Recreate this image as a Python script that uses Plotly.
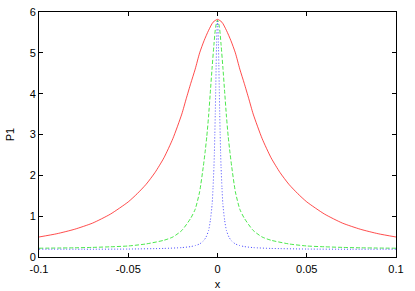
import plotly.graph_objects as go

# Values (curves are symmetric about x = 0)
red_x = [0.0, 0.0025, 0.005, 0.0075, 0.01, 0.0125, 0.015, 0.0175, 0.02, 0.025, 0.03,
         0.035, 0.04, 0.045, 0.05, 0.06, 0.07, 0.08, 0.09, 0.1]
red_y = [5.82, 5.75, 5.55, 5.3, 5.0, 4.6, 4.25, 3.88, 3.5, 2.9, 2.43,
         2.07, 1.78, 1.55, 1.35, 1.05, 0.83, 0.68, 0.57, 0.49]

green_x = [0.0, 0.001, 0.002, 0.003, 0.004, 0.005, 0.006, 0.007, 0.008, 0.01, 0.0125,
           0.015, 0.02, 0.025, 0.03, 0.04, 0.05, 0.06, 0.07, 0.08, 0.1]
green_y = [5.8, 5.65, 5.2, 4.65, 4.05, 3.45, 2.95, 2.55, 2.2, 1.6, 1.17,
           0.95, 0.65, 0.49, 0.41, 0.32, 0.27, 0.25, 0.235, 0.225, 0.215]

blue_x = [0.0, 0.00025, 0.0005, 0.00075, 0.001, 0.00125, 0.0015, 0.00175, 0.002, 0.0025,
          0.003, 0.004, 0.005, 0.0065, 0.008, 0.01, 0.0125, 0.015, 0.02, 0.03, 0.05, 0.075, 0.1]
blue_y = [5.78, 5.65, 5.25, 4.7, 4.1, 3.5, 3.0, 2.55, 2.2, 1.7,
          1.3, 0.9, 0.65, 0.48, 0.39, 0.32, 0.28, 0.255, 0.23, 0.21, 0.195, 0.19, 0.19]

x_ticks = [-0.1, -0.05, 0, 0.05, 0.1]
x_tick_labels = ["-0.1", "-0.05", "0", "0.05", "0.1"]
y_ticks = [0, 1, 2, 3, 4, 5, 6]
y_tick_labels = ["0", "1", "2", "3", "4", "5", "6"]


def mirror(xs, ys):
    full_x = [-v for v in reversed(xs[1:])] + list(xs)
    full_y = list(reversed(ys[1:])) + list(ys)
    return full_x, full_y


fig = go.Figure()
for xs, ys, color, dash in [
    (red_x, red_y, "#ff0000", "solid"),
    (green_x, green_y, "#00dd00", "4px,2px"),
    (blue_x, blue_y, "#0000ff", "1px,2px"),
]:
    fx, fy = mirror(xs, ys)
    fig.add_trace(go.Scatter(x=fx, y=fy, mode="lines",
                             line=dict(color=color, width=1, dash=dash, shape="spline", smoothing=0.6),
                             opacity=0.7, showlegend=False, hoverinfo="skip"))

axis_common = dict(showgrid=False, zeroline=False, showline=True, linecolor="black",
                   linewidth=1, mirror="ticks", ticks="inside", ticklen=4,
                   tickcolor="black", automargin=False,
                   tickfont=dict(family="Liberation Sans, Arial, sans-serif",
                                 size=11, color="black"))

fig.update_layout(
    width=415, height=291,
    margin=dict(l=39, r=19, t=12, b=34),
    paper_bgcolor="white", plot_bgcolor="white",
    font=dict(family="Liberation Sans, Arial, sans-serif", size=11, color="black"),
    xaxis=dict(range=[-0.1, 0.1], tickvals=x_ticks, ticktext=x_tick_labels,
               ticklabelstandoff=2,
               title=dict(text="x", standoff=6, font=dict(size=11)), **axis_common),
    yaxis=dict(range=[0, 6], tickvals=y_ticks, ticktext=y_tick_labels,
               title=dict(text="P1", standoff=12, font=dict(size=11)), **axis_common),
)

fig.write_html("out.html",
               config={"displayModeBar": False, "staticPlot": True},
               post_script="document.body.style.margin='0';document.body.style.overflow='hidden';")
